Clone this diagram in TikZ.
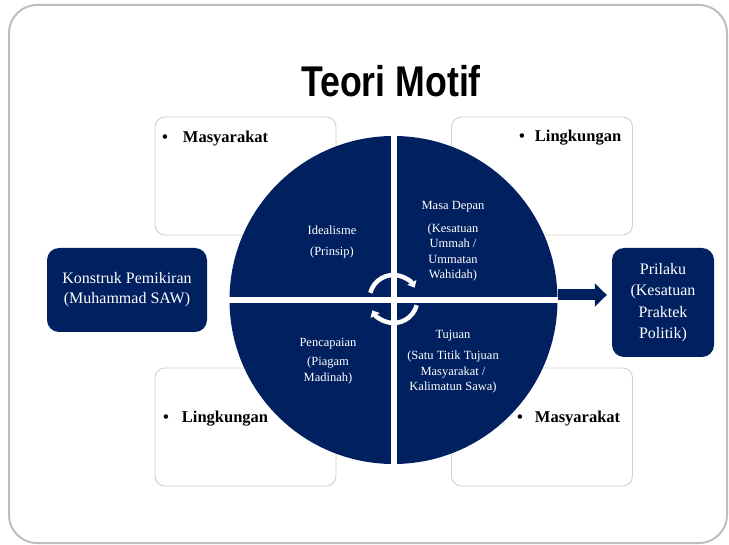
\documentclass[tikz,border=0pt]{standalone}
\usepackage{fontspec}
\setmainfont{Liberation Serif}
\newfontfamily\titlefont{Liberation Sans}
\usetikzlibrary{arrows.meta}
\definecolor{navy}{RGB}{0,32,96}
\definecolor{boxline}{RGB}{214,206,196}
\definecolor{framegray}{RGB}{190,190,190}
\begin{document}
\begin{tikzpicture}[x=1pt,y=1pt,
  panel/.style={draw=boxline, line width=0.9pt, fill=white, rounded corners=10pt,
    minimum width=181pt, minimum height=118pt, inner sep=0pt},
  navybox/.style={fill=navy, rounded corners=12pt, text=white, align=center,
    inner sep=2pt, font=\fontsize{16}{20}\selectfont},
  quad/.style={text=white, align=center, inner sep=0pt, font=\fontsize{12.5}{15.5}\selectfont},
  point/.style={anchor=base west, inner sep=0pt, font=\fontsize{16.5}{18}\selectfont\bfseries},
  cycle/.style={white, line width=4.5pt, -{Triangle[length=6pt,width=10pt]}},
]
\useasboundingbox (0,0) rectangle (729,-545);

% outer frame
\draw[framegray, line width=2pt, rounded corners=28pt] (9,-5) rectangle (727,-543);

% title
\node[font=\titlefont\bfseries\fontsize{43}{43}\selectfont, anchor=base, inner sep=0pt] (title)
  at (391,-97) {\scalebox{0.83}[1]{Teori Motif}};

% four surrounding panels
\node[panel] (ptl) at (245.5,-176) {};
\node[panel] (ptr) at (542,-176) {};
\node[panel] (pbl) at (245.5,-427) {};
\node[panel] (pbr) at (542,-427) {};

\node[point] (ttl) at (162,-143) {\textbullet\hspace{15pt}Masyarakat};
\node[point] (ttr) at (519,-142) {\textbullet\hspace{10pt}Lingkungan};
\node[point] (tbl) at (163,-423) {\textbullet\hspace{13pt}Lingkungan};
\node[point] (tbr) at (517,-423) {\textbullet\hspace{12pt}Masyarakat};

% central wheel split in four quarters
\node[circle, fill=navy, minimum size=328pt, inner sep=0pt] (wheel) at (393.5,-300) {};
\draw[white, line width=6pt] (wheel.west) -- (wheel.east);
\draw[white, line width=6pt] (wheel.north) -- (wheel.south);

% cycle arrows in the hub
\coordinate (hub) at (393.5,-299);
\draw[cycle] ([shift={(165:24pt)}]hub) arc[start angle=165, end angle=28, radius=24pt];
\draw[cycle] ([shift={(-15:24pt)}]hub) arc[start angle=-15, end angle=-152, radius=24pt];

% quarter labels
\node[quad] (q1) at (332,-242) {Idealisme\\[5pt](Prinsip)};
\node[quad] (q2) at (453,-241.5) {Masa Depan\\[7pt](Kesatuan\\Ummah /\\Ummatan\\Wahidah)};
\node[quad] (q3) at (328,-361) {Pencapaian\\[4pt](Piagam\\Madinah)};
\node[quad] (q4) at (453,-361.5) {Tujuan\\[6pt](Satu Titik Tujuan\\Masyarakat /\\Kalimatun Sawa)};

% side boxes
\node[navybox, minimum width=160pt, minimum height=84pt] (konstruk) at (127,-290)
  {Konstruk Pemikiran\\(Muhammad SAW)};
\node[navybox, minimum width=102pt, minimum height=109pt, font=\fontsize{16}{21.5}\selectfont]
  (prilaku) at (663,-302.5) {Prilaku\\(Kesatuan\\Praktek\\Politik)};

% output arrow
\draw[navy, line width=11pt, -{Triangle[length=12pt,width=23pt]}, shorten >=5pt]
  ([yshift=5pt]wheel.east) -- ([yshift=5pt]wheel.east -| prilaku.west);
\end{tikzpicture}
\end{document}
